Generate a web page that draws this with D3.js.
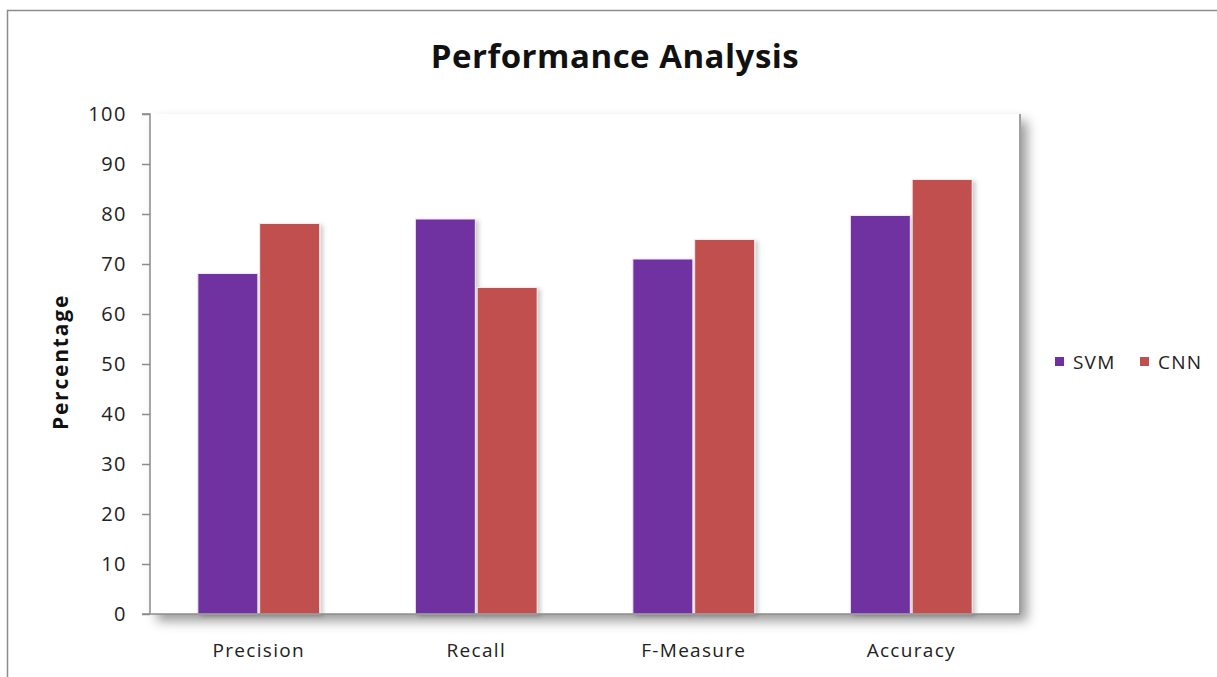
<!DOCTYPE html>
<html><head><meta charset="utf-8">
<script src="https://cdn.jsdelivr.net/npm/d3@7"></script>
<style>body{margin:0;background:#fff}svg{display:block}</style>
</head><body>
<svg id="c" width="1217" height="677"></svg>
<script>
const categories = ["Precision", "Recall", "F-Measure", "Accuracy"];
const seriesNames = ["SVM", "CNN"];
const svmValues = [68.1, 79.0, 71.0, 79.7];
const cnnValues = [78.1, 65.3, 74.9, 86.9];
const yTicks = [0,10,20,30,40,50,60,70,80,90,100];
const colors = ["#7030a0", "#c0504d"];

const svg = d3.select("#c");
const defs = svg.append("defs");
const f = defs.append("filter").attr("id","sh").attr("x","-10%").attr("y","-10%").attr("width","130%").attr("height","130%");
f.append("feDropShadow").attr("dx",7).attr("dy",7).attr("stdDeviation",6).attr("flood-color","#000").attr("flood-opacity",0.4);
const f2 = defs.append("filter").attr("id","bsh").attr("x","-20%").attr("y","-10%").attr("width","150%").attr("height","130%");
f2.append("feDropShadow").attr("dx",3).attr("dy",2).attr("stdDeviation",2).attr("flood-color","#000").attr("flood-opacity",0.2);

// outer frame
svg.append("rect").attr("x",7.5).attr("y",10.5).attr("width",1230).attr("height",700)
  .attr("fill","#fff").attr("stroke","#8c8c8c").attr("stroke-width",1.5);

const m = {l:150, t:114, r:1020, b:614};
const x0 = d3.scaleBand().domain(categories).range([m.l, m.r]).paddingInner(0.44).paddingOuter(0.22);
const x1 = d3.scaleBand().domain(seriesNames).range([0, x0.bandwidth()]).paddingInner(0.03);
const y = d3.scaleLinear().domain([0,100]).range([m.b, m.t]);

// plot area with shadow
svg.append("rect").attr("x",m.l).attr("y",m.t).attr("width",m.r-m.l).attr("height",m.b-m.t)
  .attr("fill","#fff").attr("filter","url(#sh)");
svg.append("path").attr("d",`M${m.r},${m.t}V${m.b}`).attr("stroke","#a0a0a0").attr("stroke-width",2);

const data = categories.map((c,i)=>({c, vals:[svmValues[i], cnnValues[i]]}));
const g = svg.append("g");
data.forEach(d=>{
  d.vals.forEach((v,j)=>{
    g.append("rect").attr("x", x0(d.c)+x1(seriesNames[j])).attr("y", y(v))
      .attr("width", x1.bandwidth()).attr("height", y(0)-y(v))
      .attr("fill", colors[j]).attr("stroke","#f2e8f0").attr("stroke-width",1)
      .attr("filter","url(#bsh)");
  });
});

const FONT = "'Open Sans', sans-serif";
// y axis
const ya = svg.append("g").attr("transform",`translate(${m.l},0)`)
  .call(d3.axisLeft(y).tickValues(yTicks).tickSize(8).tickPadding(10));
ya.select(".domain").attr("stroke","#8c8c8c").attr("stroke-width",1.5).attr("d",`M-8,${m.t}H0V${m.b}`);
ya.selectAll(".tick line").attr("stroke","#8c8c8c").attr("stroke-width",1.5);
ya.selectAll(".tick text").attr("font-family",FONT).attr("font-size",20).attr("letter-spacing","1.5px")
  .attr("fill","#222").attr("dx",-5);

// x axis
const xa = svg.append("g").attr("transform",`translate(0,${m.b})`)
  .call(d3.axisBottom(x0).tickSize(0).tickPadding(36));
xa.select(".domain").attr("stroke","#8c8c8c").attr("stroke-width",1.5).attr("d",`M${m.l-8},0H${m.r}`);
xa.selectAll(".tick text").attr("font-family",FONT).attr("font-size",19).attr("letter-spacing","1.3px")
  .attr("fill","#222").attr("dy","0.35em");

// title
svg.append("text").attr("x",615).attr("y",68).attr("text-anchor","middle")
  .attr("font-family",FONT).attr("font-weight","bold").attr("font-size",33).attr("letter-spacing","0.5px")
  .attr("fill","#111").text("Performance  Analysis");

// y label
svg.append("text").attr("transform","translate(68,362) rotate(-90)").attr("text-anchor","middle")
  .attr("font-family",FONT).attr("font-weight","bold").attr("font-size",21).attr("letter-spacing","1.8px")
  .attr("fill","#111").text("Percentage");

// legend
const lg = svg.append("g");
const lx = [1055, 1140];
seriesNames.forEach((s,i)=>{
  lg.append("rect").attr("x",lx[i]).attr("y",357).attr("width",9).attr("height",9).attr("fill",colors[i]);
  lg.append("text").attr("x",lx[i]+18).attr("y",369).attr("font-family",FONT)
    .attr("font-size",19).attr("letter-spacing","1.2px").attr("fill","#222").text(s);
});
</script>
</body></html>
